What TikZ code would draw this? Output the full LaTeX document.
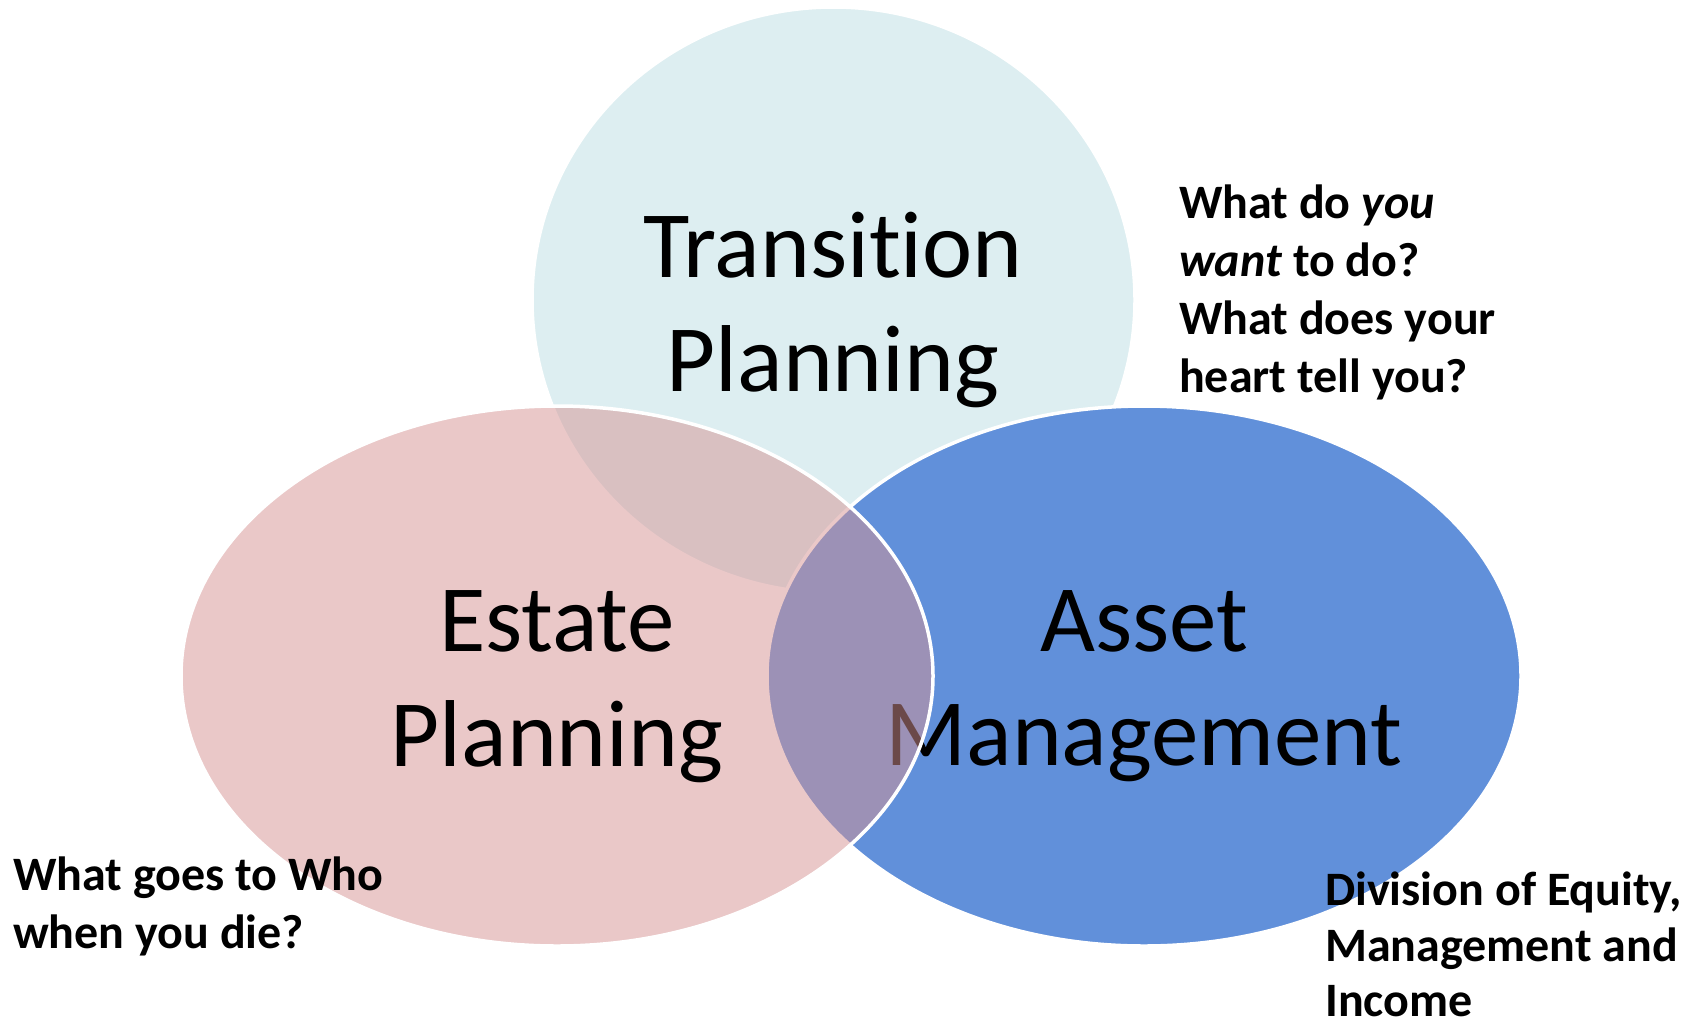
\documentclass[tikz,border=0pt]{standalone}
\usepackage{fontspec}
\setmainfont{Carlito}[Ligatures=NoCommon]
\definecolor{topc}{HTML}{DDEEF1}
\definecolor{bluec}{HTML}{6190DA}
\definecolor{pinkc}{HTML}{D79393}
\begin{document}
\begin{tikzpicture}[x=1pt,y=-1pt,
  bigtxt/.style={font=\fontsize{95}{114}\selectfont, inner sep=0pt, anchor=base},
  sidetxt/.style={font=\fontsize{48}{58}\selectfont\bfseries, inner sep=0pt, anchor=base west},
  setshape/.style={draw=white, line width=3.5pt}
]
\useasboundingbox (0,0) rectangle (1696,1023);
\fill[white] (0,0) rectangle (1696,1023);

% Transition Planning
\path[setshape, fill=topc] (833.5,300) ellipse [x radius=301.5, y radius=293];
\node[bigtxt] (tp1) at (833,277) {Transition};
\node[bigtxt] (tp2) at (833,391) {Planning};

% Asset Management
\path[setshape, fill=bluec] (1144,676) ellipse [x radius=377, y radius=270];
\node[bigtxt] (am1) at (1144,651) {Asset};
\node[bigtxt] (am2) at (1144,765) {Management};

% Estate Planning
\path[setshape, fill=pinkc, fill opacity=0.5] (557,676) ellipse [x radius=376, y radius=270];
\node[bigtxt] (ep1) at (557,651) {Estate};
\node[bigtxt] (ep2) at (557,766) {Planning};

% side questions
\node[sidetxt] (q1a) at (1179,218) {What do \textit{you}};
\node[sidetxt] (q1b) at (1179,276) {\textit{want} to do?};
\node[sidetxt] (q1c) at (1179,334) {What does your};
\node[sidetxt] (q1d) at (1179,392) {heart tell you?};

\node[sidetxt] (q2a) at (13,890) {What goes to Who};
\node[sidetxt] (q2b) at (13,948) {when you die?};

\node[sidetxt] (q3a) at (1325,905) {Division of Equity,};
\node[sidetxt] (q3b) at (1325,961) {Management and};
\node[sidetxt] (q3c) at (1325,1016) {Income};
\end{tikzpicture}
\end{document}
